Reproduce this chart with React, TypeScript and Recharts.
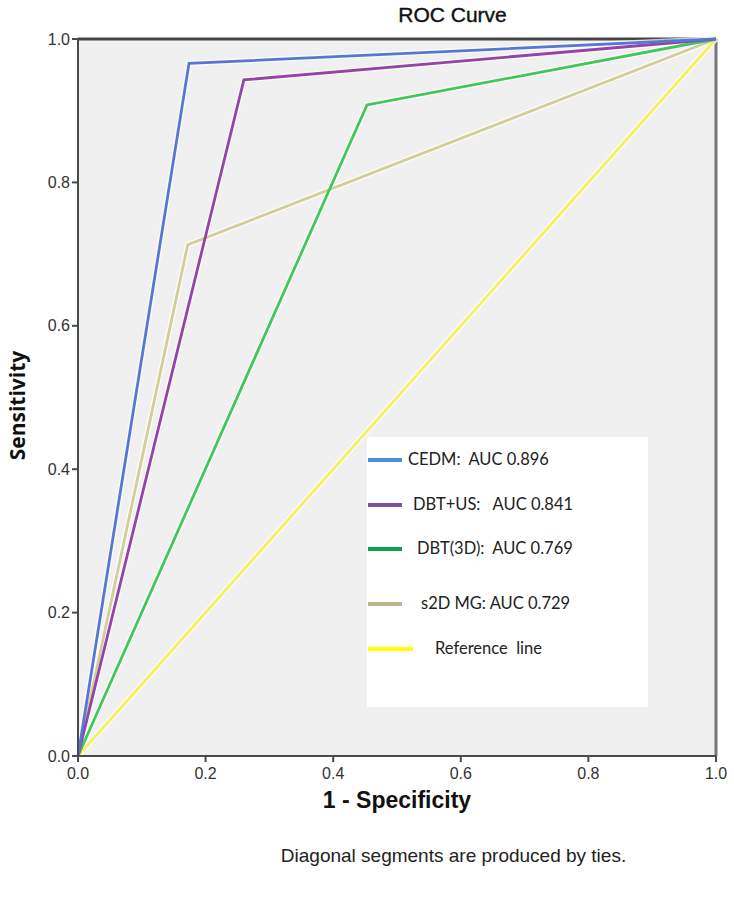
import React from 'react';
import { LineChart, Line, XAxis, YAxis, CartesianGrid, ReferenceLine, Legend } from 'recharts';

// ROC points (x = 1 - specificity, y = sensitivity)
const xTicks = [0, 0.2, 0.4, 0.6, 0.8, 1.0];
const yTicks = [0, 0.2, 0.4, 0.6, 0.8, 1.0];

const cedmX = [0, 0.174, 1];
const cedmY = [0, 0.966, 1];
const dbtUsX = [0, 0.26, 1];
const dbtUsY = [0, 0.943, 1];
const dbt3dX = [0, 0.453, 1];
const dbt3dY = [0, 0.908, 1];
const s2dX = [0, 0.172, 1];
const s2dY = [0, 0.713, 1];
const refX = [0, 1];
const refY = [0, 1];

const seriesNames = ['CEDM', 'DBT+US', 'DBT(3D)', 's2D MG', 'Reference line'];
const legendLabels = [
  'CEDM:  AUC 0.896',
  'DBT+US:   AUC 0.841',
  'DBT(3D):  AUC 0.769',
  's2D MG: AUC 0.729',
  'Reference  line',
];

const zip = (xs: number[], ys: number[]) => xs.map((x, i) => ({ x, y: ys[i] }));

const series = [
  { name: seriesNames[4], data: zip(refX, refY), color: '#f4f25e', legendColor: '#ffff00' },
  { name: seriesNames[3], data: zip(s2dX, s2dY), color: '#d3cd97', legendColor: '#bdb48c' },
  { name: seriesNames[2], data: zip(dbt3dX, dbt3dY), color: '#43c658', legendColor: '#10a04c' },
  { name: seriesNames[1], data: zip(dbtUsX, dbtUsY), color: '#9444a6', legendColor: '#7a52a4' },
  { name: seriesNames[0], data: zip(cedmX, cedmY), color: '#5677d2', legendColor: '#4a8edb' },
];

// legend row layout (offsets inside the white box)
const legendRows = [
  { top: 23, textLeft: 41, lineW: 34 },
  { top: 68, textLeft: 46, lineW: 34 },
  { top: 112, textLeft: 50, lineW: 34 },
  { top: 167, textLeft: 54, lineW: 34 },
  { top: 212, textLeft: 68, lineW: 45 },
];

function LegendBox() {
  return (
    <div style={{ position: 'relative', width: 281, height: 270, background: '#fff' }}>
      {seriesNames.map((name, i) => {
        const s = series.find((d) => d.name === name)!;
        const row = legendRows[i];
        return (
          <div key={name}>
            <div
              style={{
                position: 'absolute',
                left: 1,
                top: row.top - 2,
                width: row.lineW,
                height: 4,
                background: s.legendColor,
              }}
            />
            <div
              style={{
                position: 'absolute',
                left: row.textLeft,
                top: row.top - 11,
                fontFamily: 'Lato, "Open Sans", sans-serif',
                fontSize: 16.5,
                lineHeight: '20px',
                color: '#222',
                whiteSpace: 'pre',
              }}
            >
              {legendLabels[i]}
            </div>
          </div>
        );
      })}
    </div>
  );
}

export default function App() {
  return (
    <div style={{ position: 'absolute', left: 0, top: 0, width: 734, height: 901, background: '#fff' }}>
      <div
        style={{
          position: 'absolute',
          left: 0,
          width: 905,
          top: 3,
          textAlign: 'center',
          fontFamily: '"Liberation Sans", Arial, sans-serif',
          fontSize: 21,
          color: '#111',
          WebkitTextStroke: '0.4px #111',
        }}
      >
        ROC Curve
      </div>
      <LineChart
        width={734}
        height={901}
        margin={{ top: 39, right: 18, bottom: 85, left: 0 }}
        style={{ fontFamily: '"Liberation Sans", Arial, sans-serif' }}
      >
        <CartesianGrid fill="#f0f0f0" horizontal={false} vertical={false} />
        <XAxis
          dataKey="x"
          type="number"
          domain={[0, 1]}
          ticks={xTicks}
          tickFormatter={(v: number) => v.toFixed(1)}
          height={60}
          tickSize={6}
          tickMargin={6}
          axisLine={{ stroke: '#4a4a4a', strokeWidth: 2 }}
          tickLine={{ stroke: '#4a4a4a', strokeWidth: 2 }}
          tick={{ fontSize: 16, fill: '#333' }}
          allowDuplicatedCategory={false}
          label={{
            content: (props: any) => {
              const vb = props.viewBox;
              return (
                <text
                  x={vb.x + vb.width / 2}
                  y={vb.y + 52}
                  textAnchor="middle"
                  fontSize={23}
                  fontWeight="bold"
                  fill="#111"
                >
                  1 - Specificity
                </text>
              );
            },
          }}
        />
        <YAxis
          dataKey="y"
          type="number"
          domain={[0, 1]}
          ticks={yTicks}
          tickFormatter={(v: number) => v.toFixed(1)}
          width={78}
          tickSize={6}
          tickMargin={2}
          axisLine={{ stroke: '#4a4a4a', strokeWidth: 2 }}
          tickLine={{ stroke: '#4a4a4a', strokeWidth: 2 }}
          tick={{ fontSize: 16, fill: '#333' }}
          label={{
            content: (props: any) => {
              const vb = props.viewBox;
              const cy = vb.y + vb.height / 2 + 8;
              return (
                <text
                  x={25}
                  y={cy}
                  transform={`rotate(-90 25 ${cy})`}
                  textAnchor="middle"
                  fontSize={21}
                  fontWeight="bold"
                  fill="#111"
                  fontFamily='"Open Sans", sans-serif'
                >
                  Sensitivity
                </text>
              );
            },
          }}
        />
        <ReferenceLine y={1} stroke="#444" strokeWidth={3} />
        <ReferenceLine x={1} stroke="#777" strokeWidth={3} />
        {series.map((s) => (
          <Line
            key={s.name + '-halo'}
            data={s.data}
            dataKey="y"
            stroke="#ffffff"
            strokeOpacity={0.7}
            strokeWidth={5.5}
            dot={false}
            activeDot={false}
            legendType="none"
            isAnimationActive={false}
          />
        ))}
        {series.map((s) => (
          <Line
            key={s.name}
            name={s.name}
            data={s.data}
            dataKey="y"
            stroke={s.color}
            strokeWidth={2.8}
            dot={false}
            activeDot={false}
            isAnimationActive={false}
          />
        ))}
        <Legend
          layout="vertical"
          align="center"
          verticalAlign="middle"
          content={() => <LegendBox />}
          wrapperStyle={{ left: 367, top: 437, width: 281, height: 270 }}
        />
      </LineChart>
      <div
        style={{
          position: 'absolute',
          left: 0,
          width: 907,
          top: 845,
          textAlign: 'center',
          fontFamily: '"Liberation Sans", Arial, sans-serif',
          fontSize: 19,
          color: '#222',
        }}
      >
        Diagonal segments are produced by ties.
      </div>
    </div>
  );
}
